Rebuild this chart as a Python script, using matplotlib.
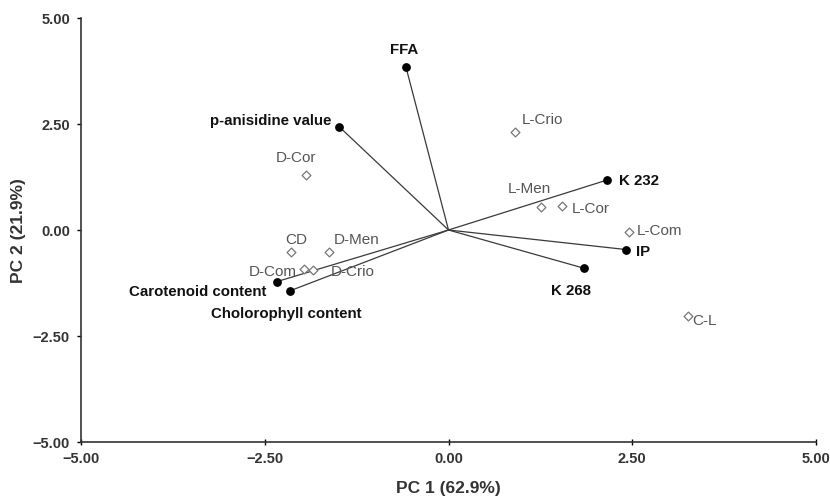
import matplotlib.pyplot as plt
from matplotlib.ticker import FuncFormatter

plt.rcParams['font.family'] = ['Liberation Sans', 'DejaVu Sans']

# sample scores
sample_names = ["L-Crio", "L-Men", "L-Cor", "L-Com", "C-L",
                "D-Cor", "CD", "D-Men", "D-Com", "D-Crio"]
sample_x = [0.91, 1.26, 1.54, 2.46, 3.26, -1.94, -2.14, -1.63, -1.96, -1.85]
sample_y = [2.31, 0.55, 0.57, -0.04, -2.02, 1.30, -0.53, -0.53, -0.92, -0.94]

# variable loadings
load_names = ["FFA", "p-anisidine value", "K 232", "IP", "K 268",
              "Carotenoid content", "Cholorophyll content"]
load_x = [-0.58, -1.49, 2.16, 2.41, 1.84, -2.34, -2.15]
load_y = [3.85, 2.44, 1.18, -0.46, -0.90, -1.22, -1.43]

ticks = [-5, -2.5, 0, 2.5, 5]

# label offsets (pixels) and alignment
sample_off = {
    "L-Crio": (6, 13, "left"), "L-Men": (-12, 19, "center"),
    "L-Cor": (10, -2, "left"), "L-Com": (7, 2, "left"),
    "C-L": (4, -4, "left"), "D-Cor": (-10, 18, "center"),
    "CD": (5, 13, "center"), "D-Men": (5, 13, "left"),
    "D-Com": (-8, -2, "right"), "D-Crio": (18, -1, "left"),
}
load_off = {
    "FFA": (-2, 18, "center"), "p-anisidine value": (-8, 7, "right"),
    "K 232": (12, 0, "left"), "IP": (10, -1, "left"),
    "K 268": (-13, -22, "center"), "Carotenoid content": (-10, -9, "right"),
    "Cholorophyll content": (-4, -22, "center"),
}

fig = plt.figure(figsize=(8.3, 5.02), dpi=100)
ax = fig.add_axes([81/830, 59/502, 735/830, 424/502])

for x, y in zip(load_x, load_y):
    ax.plot([0, x], [0, y], color="#3a3a3a", lw=0.9, zorder=1)
ax.scatter(load_x, load_y, s=28, color="black", zorder=3)
ax.scatter(sample_x, sample_y, s=20, marker="D", facecolor="white",
           edgecolor="#777777", linewidth=0.9, zorder=3)

for n, x, y in zip(sample_names, sample_x, sample_y):
    dx, dy, ha = sample_off[n]
    ax.annotate(n, (x, y), xytext=(dx, dy), textcoords="offset pixels",
                ha=ha, va="center", fontsize=11, color="#555555")
for n, x, y in zip(load_names, load_x, load_y):
    dx, dy, ha = load_off[n]
    ax.annotate(n, (x, y), xytext=(dx, dy), textcoords="offset pixels",
                ha=ha, va="center", fontsize=10.8, fontweight="bold",
                color="#111111")

ax.set_xlim(-5, 5)
ax.set_ylim(-5, 5)
ax.set_xticks(ticks)
ax.set_yticks(ticks)
fmt = FuncFormatter(lambda v, p: f"{v:.2f}".replace("-", "\u2212"))
ax.xaxis.set_major_formatter(fmt)
ax.yaxis.set_major_formatter(fmt)
ax.tick_params(axis="x", direction="inout", length=5, width=1, pad=4)
ax.tick_params(axis="y", direction="out", length=3, width=1, pad=5)
for lab in ax.get_xticklabels() + ax.get_yticklabels():
    lab.set_fontweight("bold")
    lab.set_fontsize(10.5)
    lab.set_color("#333333")

ax.spines["top"].set_visible(False)
ax.spines["right"].set_visible(False)
ax.spines["left"].set_color("#333333")
ax.spines["bottom"].set_color("#333333")
ax.spines["left"].set_linewidth(1.2)
ax.spines["bottom"].set_linewidth(1.2)

ax.set_xlabel("PC 1 (62.9%)", fontsize=12.5, fontweight="bold", color="#333333", labelpad=11)
ax.set_ylabel("PC 2 (21.9%)", fontsize=12.5, fontweight="bold", color="#333333", labelpad=5)

fig.savefig("out.png", dpi=100)
